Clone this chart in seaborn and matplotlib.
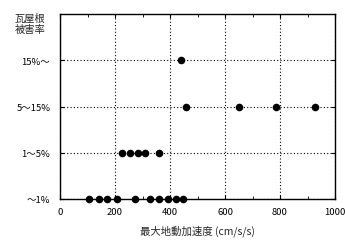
import matplotlib
matplotlib.use("Agg")
import matplotlib.pyplot as plt
import seaborn as sns
import pandas as pd
from matplotlib.ticker import MultipleLocator

sns.set_style("ticks")
plt.rcParams['font.family'] = ['Noto Sans CJK JP', 'DejaVu Sans']

categories = ["～1%", "1～5%", "5～15%", "15%～"]
acc_lt1 = [107, 142, 170, 206, 273, 327, 360, 392, 421, 448]
acc_1to5 = [224, 255, 282, 309, 361]
acc_5to15 = [458, 650, 785, 927]
acc_15up = [439]

rows = []
for lvl, vals in enumerate([acc_lt1, acc_1to5, acc_5to15, acc_15up]):
    for v in vals:
        rows.append({"acc": v, "level": lvl})
df = pd.DataFrame(rows)

fig = plt.figure(figsize=(3.45, 2.53), dpi=100)
ax = fig.add_axes([60/345, 1-200/253, 275/345, 185/253])

ax.set_xlim(0, 1000)
ax.set_ylim(0, 4)
ax.xaxis.set_major_locator(MultipleLocator(200))
ax.xaxis.set_minor_locator(MultipleLocator(100))
ax.set_yticks([0, 1, 2, 3])
ax.set_yticklabels(categories)
ax.grid(True, which="major", linestyle=(0, (1, 2)), color="black", linewidth=0.8)
ax.set_axisbelow(True)

sns.scatterplot(data=df, x="acc", y="level", ax=ax, color="black", s=30,
                edgecolor="black", linewidth=0, zorder=3, clip_on=False, legend=False)

for s in ax.spines.values():
    s.set_color("black")
    s.set_linewidth(1)
ax.tick_params(axis="both", which="both", direction="in", top=True, right=True,
               labelsize=6.8, colors="black", length=3)
ax.tick_params(axis="x", which="major", pad=6)
ax.tick_params(axis="y", which="major", pad=7)
ax.tick_params(axis="both", which="minor", length=2)
ax.set_xlabel("最大地動加速度 (cm/s/s)", fontsize=7.5, labelpad=6)
ax.set_ylabel("")
fig.text(30/345, 1-24/253, "瓦屋根\n被害率", ha="center", va="center", fontsize=7.4,
         linespacing=1.1)

fig.savefig("out.png", dpi=100)
